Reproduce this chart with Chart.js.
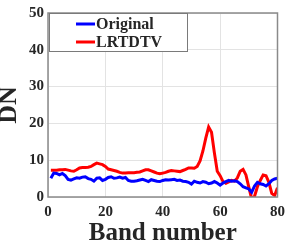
<!DOCTYPE html>
<html>
<head>
<meta charset="utf-8">
<script src="https://cdn.jsdelivr.net/npm/chart.js@4"></script>
<style>
html, body { margin: 0; padding: 0; background: #fff; }
#wrap { width: 291px; height: 247px; }
</style>
</head>
<body>
<div id="wrap"><canvas id="lineChart" width="291" height="247"></canvas></div>
<script>
const bands = [];
for (let b = 1; b <= 80; b++) bands.push(b);

const original = [
    5.1, 6.5, 6.4, 6.0, 6.4, 5.8, 4.8, 4.6, 4.9, 5.2,
    5.1, 5.4, 5.5, 5.0, 4.8, 4.3, 5.1, 5.2, 4.5, 4.8,
    5.3, 5.5, 5.1, 5.2, 5.4, 5.1, 5.3, 4.5, 4.3, 4.3,
    4.4, 4.6, 4.8, 4.5, 4.2, 4.7, 4.5, 4.3, 4.2, 4.5,
    4.7, 4.6, 4.7, 4.8, 4.5, 4.6, 4.3, 4.2, 4.0, 3.5,
    4.3, 4.0, 3.8, 4.2, 4.0, 3.6, 3.8, 4.2, 3.8, 3.2,
    3.8, 4.2, 4.5, 4.3, 4.4, 4.2, 3.6, 2.8, 2.5, 2.2,
    1.3, 3.0, 4.0, 3.6, 3.4, 3.0, 3.6, 4.5, 4.9, 5.1
];

const lrtdtv = [
    7.3, 7.3, 7.3, 7.4, 7.4, 7.5, 7.3, 7.1, 7.0, 7.4,
    7.9, 8.0, 8.0, 8.1, 8.3, 8.8, 9.2, 9.0, 8.8, 8.3,
    7.6, 7.4, 7.2, 7.0, 6.7, 6.5, 6.5, 6.6, 6.6, 6.6,
    6.7, 6.8, 7.1, 7.4, 7.4, 7.1, 6.8, 6.5, 6.3, 6.5,
    6.7, 7.0, 7.2, 7.1, 7.0, 6.9, 7.2, 7.5, 7.9, 7.9,
    7.8, 8.3, 9.8, 12.5, 16.0, 19.0, 17.6, 12.0, 7.0, 5.8,
    4.2, 3.7, 4.1, 4.5, 4.3, 5.2, 7.0, 7.5, 6.0, 2.7,
    -0.5, 0.2, 2.8, 4.5, 6.0, 5.8, 4.0, 1.0, 0.4, 2.5
];

const xTicks = [0, 20, 40, 60, 80];
const yTicks = [0, 10, 20, 30, 40, 50];

const serif = "'Liberation Serif', 'Times New Roman', serif";
const textColor = "#262626";

// MATLAB style box + legend
const boxPlugin = {
    id: "boxPlugin",
    afterDatasetsDraw(chart) {
        const { ctx, chartArea: a } = chart;
        ctx.save();
        ctx.strokeStyle = "#8a8a8a";
        ctx.lineWidth = 1.5;
        ctx.strokeRect(a.left, a.top, a.right - a.left, a.bottom - a.top);

        // legend
        const lx = a.left + 1, ly = a.top, lw = 138, lh = 38;
        ctx.fillStyle = "#fff";
        ctx.fillRect(lx, ly, lw, lh);
        ctx.strokeStyle = "#7a7a7a";
        ctx.lineWidth = 1;
        ctx.strokeRect(lx + 0.5, ly + 0.5, lw, lh);

        ctx.font = "bold 16px " + serif;
        ctx.textBaseline = "middle";
        chart.data.datasets.forEach((ds, i) => {
            const y = ly + 11 + i * 18;
            ctx.strokeStyle = ds.borderColor;
            ctx.lineWidth = 3;
            ctx.beginPath();
            ctx.moveTo(lx + 27, y);
            ctx.lineTo(lx + 46, y);
            ctx.stroke();
            ctx.fillStyle = textColor;
            ctx.fillText(ds.label, lx + 47, y + 1);
        });
        ctx.restore();
    }
};

let lineChart = new Chart(document.getElementById("lineChart").getContext("2d"), {
    type: "line",
    data: {
        labels: bands,
        datasets: [{
            label: "Original",
            data: original,
            borderColor: "#0000ff",
            borderWidth: 3,
            pointRadius: 0,
            tension: 0
        }, {
            label: "LRTDTV",
            data: lrtdtv,
            borderColor: "#ff0000",
            borderWidth: 3,
            pointRadius: 0,
            tension: 0
        }]
    },
    options: {
        responsive: false,
        animation: false,
        layout: { padding: { top: 5, right: 10, left: 0, bottom: 0 } },
        plugins: {
            legend: { display: false },
            tooltip: { enabled: false }
        },
        scales: {
            x: {
                type: "linear",
                min: 0,
                max: 80,
                afterFit: s => { s.height = 50; },
                afterBuildTicks: s => { s.ticks = xTicks.map(v => ({ value: v })); },
                grid: { color: "#e3e3e3", drawTicks: false },
                border: { display: false },
                ticks: {
                    padding: 6,
                    color: textColor,
                    font: { family: serif, size: 15, weight: "bold" }
                },
                title: {
                    display: true,
                    text: "Band number",
                    color: textColor,
                    padding: 0,
                    font: { family: serif, size: 25, weight: "bold", lineHeight: 1.1 }
                }
            },
            y: {
                min: 0,
                max: 50,
                afterFit: s => { s.width = 48; },
                afterBuildTicks: s => { s.ticks = yTicks.map(v => ({ value: v })); },
                grid: { color: "#e3e3e3", drawTicks: false },
                border: { display: false },
                ticks: {
                    padding: 4,
                    color: textColor,
                    font: { family: serif, size: 15, weight: "bold" }
                },
                title: {
                    display: true,
                    text: "DN",
                    color: textColor,
                    padding: 0,
                    font: { family: serif, size: 26, weight: "bold", lineHeight: 0.75 }
                }
            }
        }
    },
    plugins: [boxPlugin]
});
</script>
</body>
</html>
